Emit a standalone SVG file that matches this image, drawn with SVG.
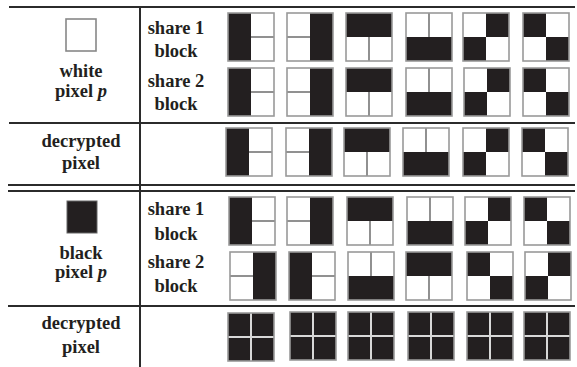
<svg xmlns="http://www.w3.org/2000/svg" xmlns:xlink="http://www.w3.org/1999/xlink" width="577" height="367" viewBox="0 0 577 367">
<style>
.t{font-family:"Liberation Serif","Times New Roman",serif;font-weight:bold;font-size:18.5px;fill:#231f20}
.rule{stroke:#2b2b2b;stroke-width:2;fill:none}
.blk{fill:#231f20}
.dv{stroke:#555;stroke-width:1.3}
.fr{fill:none;stroke:#999;stroke-width:1.6}
.wd{stroke:#d8d8d8;stroke-width:2}
</style>
<defs>
<g id="pL"><rect width="46" height="48" fill="#fff"/><rect class="blk" x="0" y="0" width="23" height="48"/><line class="dv" x1="23" y1="24" x2="46" y2="24"/><rect class="fr" width="46" height="48"/></g>
<g id="pR"><rect width="46" height="48" fill="#fff"/><rect class="blk" x="23" y="0" width="23" height="48"/><line class="dv" x1="0" y1="24" x2="23" y2="24"/><rect class="fr" width="46" height="48"/></g>
<g id="pT"><rect width="46" height="48" fill="#fff"/><rect class="blk" x="0" y="0" width="46" height="24"/><line class="dv" x1="23" y1="24" x2="23" y2="48"/><rect class="fr" width="46" height="48"/></g>
<g id="pB"><rect width="46" height="48" fill="#fff"/><rect class="blk" x="0" y="24" width="46" height="24"/><line class="dv" x1="23" y1="0" x2="23" y2="24"/><rect class="fr" width="46" height="48"/></g>
<g id="pD1"><rect width="46" height="48" fill="#fff"/><rect class="blk" x="23" y="0" width="23" height="24"/><rect class="blk" x="0" y="24" width="23" height="24"/><rect class="fr" width="46" height="48"/></g>
<g id="pD2"><rect width="46" height="48" fill="#fff"/><rect class="blk" x="0" y="0" width="23" height="24"/><rect class="blk" x="23" y="24" width="23" height="24"/><rect class="fr" width="46" height="48"/></g>
<g id="pF"><rect class="blk" width="46" height="48"/><line class="wd" x1="23" y1="0" x2="23" y2="48"/><line class="wd" x1="0" y1="24" x2="46" y2="24"/><rect class="fr" width="46" height="48"/></g>
</defs>

<g id="rules">
<line class="rule" x1="9" y1="7" x2="575" y2="7"/>
<line class="rule" x1="9" y1="123" x2="575" y2="123"/>
<line class="rule" x1="8" y1="185" x2="575" y2="185"/>
<line class="rule" x1="8" y1="191" x2="575" y2="191"/>
<line class="rule" x1="8" y1="306" x2="575" y2="306"/>
<line class="rule" x1="140" y1="7" x2="140" y2="367"/>
</g>

<g id="white-pixel">
<rect x="66" y="19" width="30" height="32" fill="#fff" stroke="#888" stroke-width="1.6"/>
<text class="t" x="81" y="77" text-anchor="middle">white</text>
<text class="t" x="81" y="97" text-anchor="middle">pixel <tspan font-style="italic">p</tspan></text>
</g>
<g id="labels-top">
<text class="t" x="176" y="34" text-anchor="middle">share 1</text>
<text class="t" x="176" y="57" text-anchor="middle">block</text>
<text class="t" x="176" y="87" text-anchor="middle">share 2</text>
<text class="t" x="176" y="110" text-anchor="middle">block</text>
<text class="t" x="81" y="147" text-anchor="middle">decrypted</text>
<text class="t" x="81" y="169" text-anchor="middle">pixel</text>
</g>

<g id="black-pixel">
<rect x="67" y="201" width="30" height="32" fill="#231f20" stroke="#666" stroke-width="1"/>
<text class="t" x="81" y="259" text-anchor="middle">black</text>
<text class="t" x="81" y="278" text-anchor="middle">pixel <tspan font-style="italic">p</tspan></text>
</g>
<g id="labels-bottom">
<text class="t" x="176" y="215" text-anchor="middle">share 1</text>
<text class="t" x="176" y="240" text-anchor="middle">block</text>
<text class="t" x="176" y="268" text-anchor="middle">share 2</text>
<text class="t" x="176" y="292" text-anchor="middle">block</text>
<text class="t" x="81" y="329" text-anchor="middle">decrypted</text>
<text class="t" x="81" y="353" text-anchor="middle">pixel</text>
</g>

<g id="w-s1">
<use xlink:href="#pL" x="228" y="13"/>
<use xlink:href="#pR" x="287" y="13"/>
<use xlink:href="#pT" x="346" y="13"/>
<use xlink:href="#pB" x="406" y="13"/>
<use xlink:href="#pD1" x="463" y="13"/>
<use xlink:href="#pD2" x="523" y="13"/>
</g>
<g id="w-s2">
<use xlink:href="#pL" x="228" y="68"/>
<use xlink:href="#pR" x="287" y="68"/>
<use xlink:href="#pT" x="346" y="68"/>
<use xlink:href="#pB" x="406" y="68"/>
<use xlink:href="#pD1" x="464" y="68"/>
<use xlink:href="#pD2" x="523" y="68"/>
</g>
<g id="w-dec">
<use xlink:href="#pL" x="226" y="128"/>
<use xlink:href="#pR" x="286" y="128"/>
<use xlink:href="#pT" x="344" y="128"/>
<use xlink:href="#pB" x="403" y="128"/>
<use xlink:href="#pD1" x="463" y="128"/>
<use xlink:href="#pD2" x="522" y="128"/>
</g>

<g id="b-s1">
<use xlink:href="#pL" x="229" y="197"/>
<use xlink:href="#pR" x="287" y="197"/>
<use xlink:href="#pT" x="347" y="197"/>
<use xlink:href="#pB" x="407" y="197"/>
<use xlink:href="#pD1" x="465" y="197"/>
<use xlink:href="#pD2" x="524" y="197"/>
</g>
<g id="b-s2">
<use xlink:href="#pR" x="230" y="252"/>
<use xlink:href="#pL" x="289" y="252"/>
<use xlink:href="#pB" x="348" y="252"/>
<use xlink:href="#pT" x="406" y="252"/>
<use xlink:href="#pD2" x="467" y="252"/>
<use xlink:href="#pD1" x="525" y="252"/>
</g>
<g id="b-dec">
<use xlink:href="#pF" x="228" y="313"/>
<use xlink:href="#pF" x="290" y="312"/>
<use xlink:href="#pF" x="348" y="312"/>
<use xlink:href="#pF" x="408" y="312"/>
<use xlink:href="#pF" x="467" y="312"/>
<use xlink:href="#pF" x="524" y="312"/>
</g>
</svg>
